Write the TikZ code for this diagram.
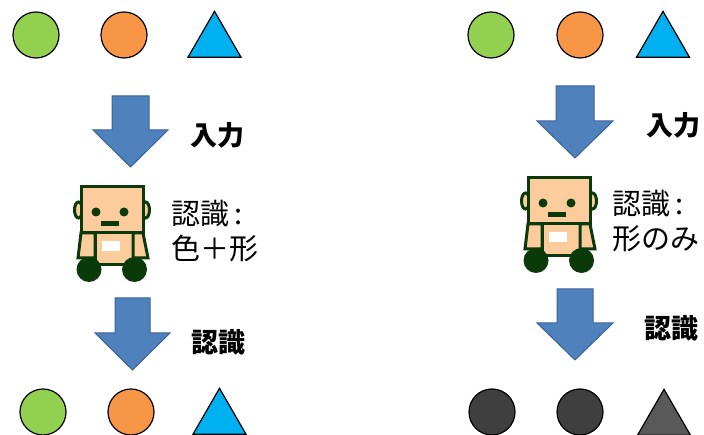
\documentclass[tikz,border=0pt]{standalone}
\usepackage{fontspec}
\newfontfamily\cjk{Noto Sans CJK JP}
\usetikzlibrary{shapes.geometric}
\definecolor{cgreen}{HTML}{92D050}
\definecolor{corange}{HTML}{F79646}
\definecolor{cblue}{HTML}{00B0F0}
\definecolor{cdark}{HTML}{404040}
\definecolor{cdarktri}{HTML}{595959}
\definecolor{arrowfill}{HTML}{4F81BD}
\definecolor{arrowline}{HTML}{3B6496}
\definecolor{skin}{HTML}{FCCC9C}
\definecolor{rgreen}{HTML}{0A3A0A}
\tikzset{
  dot/.style={circle, draw=black, line width=1.2pt, minimum size=46pt, inner sep=0pt},
  tri/.style={isosceles triangle, isosceles triangle apex angle=60, shape border rotate=90,
    draw=black, line width=1.2pt, minimum height=46pt, inner sep=0pt},
  bigarrow/.style={fill=arrowfill, draw=arrowline, line width=1pt, line join=miter},
  boldlabel/.style={font=\cjk\bfseries\fontsize{27}{32}\selectfont, inner sep=0pt, anchor=west},
  notelabel/.style={font=\cjk\fontsize{29}{35}\selectfont, inner sep=0pt, anchor=west, align=left},
  robotline/.style={draw=rgreen, line width=3pt, line join=miter},
  robot/.pic={
    % ears behind the head
    \filldraw[robotline, fill=skin] (-2.5,23) ellipse [x radius=4, y radius=8];
    \filldraw[robotline, fill=skin] (64.5,23) ellipse [x radius=4, y radius=8];
    % torso reaching down behind the wheels, and two arms
    \filldraw[robotline, fill=skin] (14,46) rectangle (52,78);
    \filldraw[robotline, fill=skin] (0,46) -- (14,46) -- (14,71) -- (-3,71) -- cycle;
    \filldraw[robotline, fill=skin] (52,46) -- (62,46) -- (67,71) -- (52,71) -- cycle;
    \fill[white] (21,54) rectangle (39,64);
    % head
    \filldraw[robotline, fill=skin] (0,0) rectangle (62,46);
    \fill[rgreen] (15,25) circle [radius=4.5] (43,25) circle [radius=4.5];
    \fill[rgreen] (20,34) rectangle (38,39);
    % wheels
    \fill[rgreen] (8,82.5) circle [radius=12.5] (53.5,82.5) circle [radius=12.5];
  }
}
\begin{document}
\begin{tikzpicture}[x=1pt, y=-1pt]
\useasboundingbox (0,0) rectangle (704,435);

% ---------- left column: colour and shape ----------
\node[dot, fill=cgreen]  (lg1) at (36,35) {};
\node[dot, fill=corange] (lo1) at (124,35) {};
\node[tri, fill=cblue]   (lt1) at (214.5,42) {};

\draw[bigarrow] (112,96) -- (149,96) -- (149,130) -- (168,130) -- (130.5,167)
  -- (93,130) -- (112,130) -- cycle;
\node[boldlabel] (lin) at (190,135) {入力};

\pic at (81,187) {robot};
\node[notelabel] (lnote) at (171,231) {認識\hspace{5pt}:\\色＋形};

\draw[bigarrow] (115,298) -- (150,298) -- (150,333) -- (170,333) -- (132.5,370)
  -- (95,333) -- (115,333) -- cycle;
\node[boldlabel] (lrec) at (191,342) {認識};

\node[dot, fill=cgreen]  (lg2) at (43,412) {};
\node[dot, fill=corange] (lo2) at (131,412) {};
\node[tri, fill=cblue]   (lt2) at (219.5,419) {};

% ---------- right column: shape only ----------
\node[dot, fill=cgreen]  (rg1) at (491,35) {};
\node[dot, fill=corange] (ro1) at (580,35) {};
\node[tri, fill=cblue]   (rt1) at (663,42) {};

\draw[bigarrow] (556,86) -- (594,86) -- (594,121) -- (613,121) -- (575,158)
  -- (537,121) -- (556,121) -- cycle;
\node[boldlabel] (rin) at (646,125) {入力};

\pic at (528,178) {robot};
\node[notelabel] (rnote) at (612,221) {認識\hspace{5pt}:\\形のみ};

\draw[bigarrow] (557,289) -- (593,289) -- (593,323) -- (613,323) -- (575,360)
  -- (537,323) -- (557,323) -- cycle;
\node[boldlabel] (rrec) at (644,328) {認識};

\node[dot, fill=cdark]    (rg2) at (492,412) {};
\node[dot, fill=cdark]    (ro2) at (580,412) {};
\node[tri, fill=cdarktri] (rt2) at (664,420) {};
\end{tikzpicture}
\end{document}
